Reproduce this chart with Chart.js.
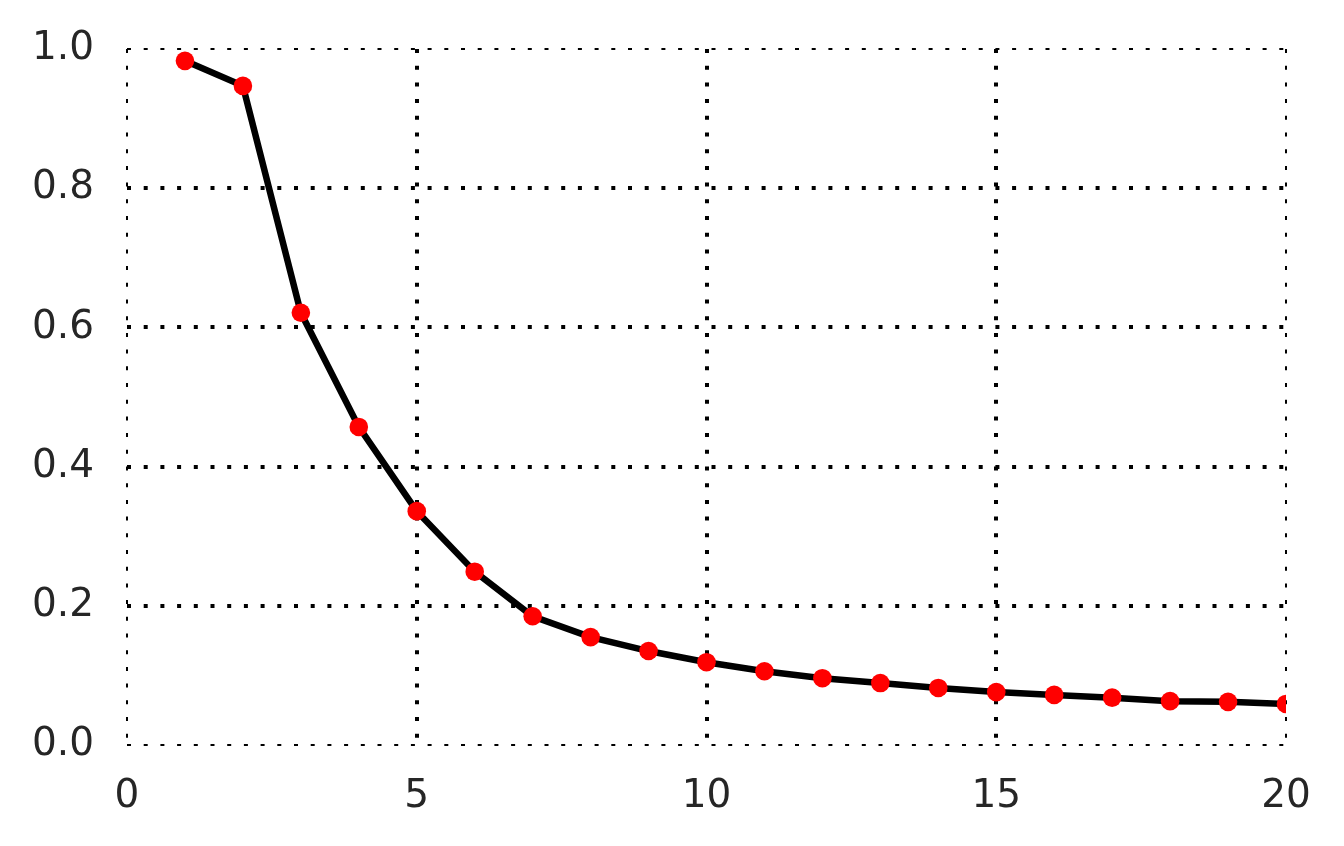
<!DOCTYPE html>
<html>
<head>
<meta charset="utf-8">
<script src="https://cdn.jsdelivr.net/npm/chart.js@4/dist/chart.umd.min.js"></script>
<style>
    html, body { margin: 0; padding: 0; background: #fff; }
    #wrap { width: 1344px; height: 846px; }
</style>
</head>
<body>
<div id="wrap"><canvas id="curveChart"></canvas></div>
<script>
const xValues = [1, 2, 3, 4, 5, 6, 7, 8, 9, 10, 11, 12, 13, 14, 15, 16, 17, 18, 19, 20];
const yValues = [0.983, 0.947, 0.621, 0.457, 0.336, 0.249, 0.185, 0.155, 0.135, 0.119,
                 0.106, 0.096, 0.089, 0.082, 0.076, 0.072, 0.068, 0.063, 0.062, 0.059];
const xTicks = [0, 5, 10, 15, 20];
const yTicks = [0.0, 0.2, 0.4, 0.6, 0.8, 1.0];

const tickFont = { family: 'DejaVu Sans', size: 39 };
const tickColor = '#262626';

// edge grid lines look thinner (half is clipped in the original)
const gridWidth = (ctx, count) => (ctx.index === 0 || ctx.index === count - 1) ? 2 : 4;

new Chart(document.getElementById('curveChart'), {
    type: 'line',
    data: {
        datasets: [{
            data: xValues.map((x, i) => ({ x, y: yValues[i] })),
            borderColor: '#000',
            borderWidth: 6.5,
            tension: 0,
            pointRadius: 9.3,
            pointBackgroundColor: '#ff0000',
            pointBorderWidth: 0,
            clip: 0
        }]
    },
    options: {
        responsive: true,
        maintainAspectRatio: false,
        animation: false,
        layout: { padding: { top: 49, right: 58, left: 0, bottom: 0 } },
        plugins: {
            legend: { display: false },
            tooltip: { enabled: false }
        },
        scales: {
            x: {
                type: 'linear',
                min: 0,
                max: 20,
                afterBuildTicks: (axis) => { axis.ticks = xTicks.map(v => ({ value: v })); },
                afterFit: (axis) => {
                    axis.height = 101;
                    axis.paddingLeft = 0;
                    axis.paddingRight = 0;
                },
                ticks: {
                    font: tickFont,
                    color: tickColor,
                    padding: 28,
                    maxRotation: 0,
                    autoSkip: false
                },
                grid: {
                    color: '#000',
                    lineWidth: (ctx) => gridWidth(ctx, xTicks.length),
                    drawTicks: false
                },
                border: { display: false, dash: [4, 12.7] }
            },
            y: {
                min: 0,
                max: 1,
                afterBuildTicks: (axis) => { axis.ticks = yTicks.map(v => ({ value: v })); },
                afterFit: (axis) => {
                    axis.width = 127;
                    axis.paddingTop = 0;
                    axis.paddingBottom = 0;
                },
                ticks: {
                    font: tickFont,
                    color: tickColor,
                    padding: 33,
                    callback: (v) => Number(v).toFixed(1)
                },
                grid: {
                    color: '#000',
                    lineWidth: (ctx) => gridWidth(ctx, yTicks.length),
                    drawTicks: false
                },
                border: { display: false, dash: [4, 12.7] }
            }
        }
    }
});
</script>
</body>
</html>
